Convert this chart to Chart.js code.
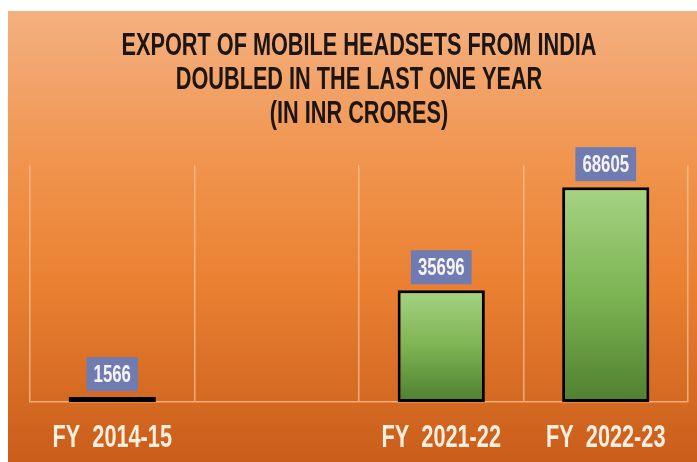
<!DOCTYPE html>
<html>
<head>
<meta charset="utf-8">
<script src="https://cdn.jsdelivr.net/npm/chart.js@4"></script>
<style>
  html, body { margin: 0; padding: 0; background: #ffffff; }
  #wrap { width: 697px; height: 462px; position: relative; }
</style>
</head>
<body>
<div id="wrap"><canvas id="c" width="697" height="462"></canvas></div>
<script>
const titleLines = ["EXPORT OF MOBILE HEADSETS FROM INDIA", "DOUBLED IN THE LAST ONE YEAR", "(IN INR CRORES)"];
const categories = ["FY  2014-15", "", "FY  2021-22", "FY  2022-23"];
const exportValues = [1566, null, 35696, 68605];

const FONT = "'Liberation Sans', Arial, 'DejaVu Sans', sans-serif";
const SQUEEZE = 0.70; // horizontal compression to imitate the condensed typeface

// All text on this chart is drawn condensed, like the original's narrow font.
const condensePlugin = {
  id: 'condense',
  beforeDraw(chart) {
    const ctx = chart.ctx;
    if (ctx.__condensed) return;
    const orig = ctx.fillText;
    ctx.fillText = function (t, x, y) {
      ctx.save();
      ctx.translate(x, y);
      ctx.scale(SQUEEZE, 1);
      orig.call(ctx, t, 0, 0);
      ctx.restore();
    };
    ctx.__condensed = true;
  }
};

const bgPlugin = {
  id: 'bg',
  beforeDraw(chart) {
    const ctx = chart.ctx;
    ctx.save();
    ctx.fillStyle = '#ffffff';
    ctx.fillRect(0, 0, chart.width, chart.height);
    const g = ctx.createLinearGradient(0, 11, 0, chart.height);
    g.addColorStop(0, '#f4b080');
    g.addColorStop(0.35, '#f0934c');
    g.addColorStop(0.6, '#ea8132');
    g.addColorStop(1, '#c95d1a');
    ctx.fillStyle = g;
    ctx.fillRect(8, 11, chart.width - 8, chart.height - 11);
    ctx.restore();
  }
};

const labelPlugin = {
  id: 'valueBoxes',
  afterDatasetsDraw(chart) {
    const ctx = chart.ctx;
    const meta = chart.getDatasetMeta(0);
    ctx.save();
    ctx.font = "bold 24px " + FONT;
    ctx.textAlign = 'center';
    ctx.textBaseline = 'middle';
    meta.data.forEach((bar, i) => {
      const v = exportValues[i];
      if (v === null || v === undefined) return;
      const txt = String(v);
      const w = ctx.measureText(txt).width * SQUEEZE + 14;
      const h = 34;
      const cx = bar.x;
      const bottom = bar.y - 6;
      ctx.fillStyle = '#6f7cb2';
      ctx.fillRect(cx - w / 2, bottom - h, w, h);
      ctx.fillStyle = '#f7f3f2';
      ctx.fillText(txt, cx, bottom - h / 2 + 1);
    });
    ctx.restore();
  }
};

new Chart(document.getElementById('c'), {
  type: 'bar',
  data: {
    labels: categories,
    datasets: [{
      data: exportValues,
      backgroundColor: (c) => {
        const chart = c.chart;
        const ys = chart.scales && chart.scales.y;
        if (!ys || !chart.chartArea || c.raw == null) return '#7fb455';
        const top = ys.getPixelForValue(c.raw);
        const base = ys.getPixelForValue(0);
        if (!isFinite(top) || !isFinite(base) || base - top < 8) return '#000000';
        const g = chart.ctx.createLinearGradient(0, top, 0, base);
        g.addColorStop(0, '#a6d384');
        g.addColorStop(0.5, '#7db452');
        g.addColorStop(1, '#4f8030');
        return g;
      },
      borderColor: '#000000',
      borderWidth: 3,
      borderSkipped: false,
      barPercentage: 0.53,
      categoryPercentage: 1.0
    }]
  },
  options: {
    responsive: false,
    animation: false,
    layout: { padding: { left: 30, right: 9, top: 11, bottom: 0 } },
    plugins: {
      legend: { display: false },
      tooltip: { enabled: false },
      title: {
        display: true,
        text: titleLines,
        color: '#1c1512',
        font: { family: FONT, size: 31, weight: 'bold', lineHeight: 1.1 },
        padding: { top: 18, bottom: 34 }
      }
    },
    scales: {
      x: {
        afterFit(scale) { scale.height = 60; scale.paddingLeft = 0; scale.paddingRight = 0; },
        grid: { display: true, offset: true, drawTicks: false, color: 'rgba(250,196,150,0.75)', lineWidth: 1.5 },
        border: { display: true, color: 'rgba(250,196,150,0.75)', width: 1.5 },
        ticks: { color: '#fcefe0', font: { family: FONT, size: 31, weight: 'bold' }, padding: 18, maxRotation: 0, autoSkip: false }
      },
      y: {
        display: false,
        min: 0,
        max: 75600
      }
    }
  },
  plugins: [bgPlugin, condensePlugin, labelPlugin]
});
</script>
</body>
</html>
